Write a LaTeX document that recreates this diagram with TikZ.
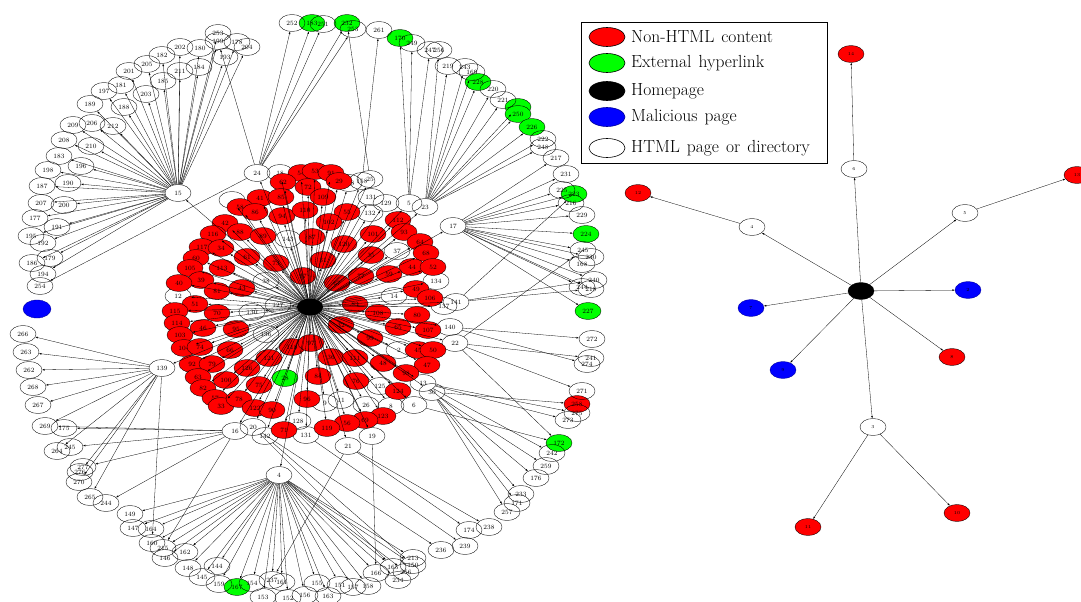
\documentclass[tikz,border=0pt]{standalone}
\usepackage{tikz}
\usetikzlibrary{arrows.meta,shapes.geometric}

% first level pages of site one: name/x/y
\newcommand\firstwhite{12/178/296, 127/278/305, 130/252/312, 136/266/334, 143/288/239, 38/266/281,
  25/370/179, 138/349/183, 131/371/197, 129/386/203, 5/409/203, 23/425/207, 132/370/213, 17/453/226,
  37/397/251, 134/436/281, 14/394/296, 137/444/306, 141/456/302, 140/450/327, 22/455/343, 2/399/350,
  125/380/386, 13/423/383, 30/432/392, 9/325/403, 11/341/400, 26/366/405, 8/391/406, 6/414/405,
  128/298/421, 19/372/436, 21/348/446, 16/235/431, 20/253/427, 142/265/436, 4/279/475, 139/162/368,
  15/178/193, 24/257/173, 18/280/173}
\newcommand\firstred{54/301/173, 53/315/171, 91/331/173, 62/283/182, 72/308/187, 29/339/181, 109/323/197,
  41/260/198, 85/281/197, 58/240/207, 86/255/212, 94/282/216, 110/305/210, 55/347/212, 102/329/222,
  112/398/220, 101/373/234, 93/404/232, 42/225/223, 116/213/234, 88/240/232, 89/263/236, 87/312/237,
  120/344/244, 64/420/242, 117/202/247, 34/221/248, 61/247/257, 68/426/253, 35/371/255, 73/276/263,
  31/323/260, 60/196/258, 105/190/268, 113/222/268, 44/412/267, 52/433/267, 59/389/274, 77/361/276,
  67/337/283, 39/201/280, 40/179/283, 81/217/291, 43/242/288, 49/416/289, 106/430/298, 51/195/304,
  70/217/313, 83/355/304, 108/378/313, 80/417/315, 115/175/311, 114/177/323, 32/341/325, 65/398/327,
  107/428/330, 46/203/328, 95/236/329, 103/180/335, 104/184/348, 74/200/347, 66/230/350, 118/292/347,
  97/311/343, 99/370/338, 45/418/350, 50/433/350, 36/331/357, 111/355/358, 48/383/363, 47/427/365,
  121/269/358, 92/192/364, 79/212/364, 126/247/368, 84/318/376, 76/356/381, 98/406/373, 124/398/391,
  63/198/377, 100/226/380, 75/259/385, 82/203/388, 57/215/398, 33/221/406, 78/239/399, 96/307/399,
  122/255/408, 90/272/410, 123/383/416, 69/365/420, 56/347/423, 119/327/428, 71/284/430}
% outer pages of site one: hub/name/x/y
\newcommand\outerwhite{15/253/218/33, 15/199/218/41, 15/178/237/42, 15/204/247/47, 15/202/180/47,
  15/180/200/48, 15/193/225/57, 15/182/162/55, 15/184/199/67, 15/211/180/71, 15/205/147/64,
  15/201/129/71, 15/185/163/81, 15/181/121/85, 15/197/104/91, 15/203/146/94, 15/189/90/104,
  15/188/124/107, 15/209/73/125, 15/206/92/123, 15/212/113/126, 15/208/64/140, 15/210/91/146,
  15/183/59/156, 15/196/81/166, 15/198/48/170, 15/190/68/183, 15/187/42/186, 15/207/41/203,
  15/200/64/205, 15/177/35/218, 15/191/57/227, 15/195/31/236, 15/192/43/243, 15/179/50/258,
  15/186/32/263, 15/194/43/274, 24/254/40/286, 24/252/292/23, 24/251/323/24, 158b/261/379/30,
  5/249/412/43, 5/247/430/50, 23/256/439/50, 23/219/448/66, 23/243/465/67, 23/169/472/72,
  23/220/493/89, 23/221/503/100, 23/222/543/139, 23/248/543/147, 17/217/556/158, 17/231/566/174,
  17/225/562/190, 17/216/571/203, 17/229/582/215, 17/245/583/250, 17/230/591/257, 17/168/582/264,
  17/240/594/280, 17/244/582/287, 17/218/591/289, 140/272/592/339, 22/241/591/358, 140/274/587/364,
  22/271/582/391, 13/275/577/413, 13/273/568/420, 13/242/552/453, 30/259/546/466, 13/176/536/478,
  30/233/521/494, 30/171/517/503, 30/257/507/512, 21/238/489/527, 21/174/469/530, 131b/239/465/546,
  20/236/441/550, 4/149/130/514, 4/147/133/528, 4/164/151/529, 4/160/152/543, 4/215/163/548,
  4/146/165/558, 4/162/185/552, 4/148/188/568, 4/144/217/566, 4/145/202/577, 4/159/219/584,
  4/154/252/583, 4/153/263/597, 4/237/272/580, 4/161/282/582, 4/152/288/598, 4/156/305/595,
  4/155/317/583, 4/163/328/596, 4/151/340/585, 4/157/353/587, 4/158/368/586, 4/166/376/573,
  4/165/393/567, 4/234/398/580, 4/213/413/558, 4/150/413/565, 139/266/23/334, 139/263/26/352,
  139/262/29/370, 139/268/33/387, 139/267/38/405, 139/269/45/426, 16/175/64/428, 139/264/57/451,
  16/277/83/467, 139/276/80/472, 139/270/79/482, 139/265/90/497}

\begin{document}
\begin{tikzpicture}[x=1pt, y=-1pt,
    nd/.style={ellipse, draw, line width=0.35pt, minimum width=26pt, minimum height=17pt, inner sep=0pt, font=\fontsize{6.5}{7}\selectfont},
    pg/.style={nd},
    nh/.style={nd, fill=red},
    ex/.style={nd, fill=green},
    hm/.style={nd, fill=black},
    ml/.style={nd, fill=blue, draw=blue!60!black},
    sm/.style={font=\fontsize{4.5}{5}\selectfont},
    ln/.style={-{Latex[length=2.4pt,width=1.8pt]}, line width=0.3pt},
    lgk/.style={ellipse, draw, line width=0.6pt, minimum width=36pt, minimum height=19pt, inner sep=0pt},
    lgt/.style={anchor=west, inner sep=0pt, font=\fontsize{17.5}{19}\selectfont}]
  \useasboundingbox (0,0) rectangle (1081,602);

  % site one: nodes
  \node[hm] (hp) at (310,307) {};
  \foreach \n/\x/\y in \firstwhite {\node[pg] (n\n) at (\x,\y) {\n};}
  \node[pg] (n158b) at (362,181) {158};
  \node[pg] (n131b) at (306,435) {131};
  \node[pg] (nw) at (232,200) {};
  \foreach \n/\x/\y in \firstred {\node[nh] (n\n) at (\x,\y) {\n};}
  \node[nh] (n97b) at (303,276) {97};
  \node[ex] (n28) at (285,378) {28};
  \node[ex] (n183g) at (312,23) {183};
  \node[ex] (n232) at (347,23) {232};
  \node[ex] (n170) at (400,38) {170};
  \node[ex] (n228) at (478,82) {228};
  \node[ex] (n250g) at (518,107) {};
  \node[ex] (n250) at (518,114) {250};
  \node[ex] (n226) at (532,127) {226};
  \node[ex] (n223) at (574,194) {223};
  \node[ex] (n224) at (586,234) {224};
  \node[ex] (n227) at (588,311) {227};
  \node[ex] (n172) at (559,443) {172};
  \node[ex] (n167) at (237,587) {167};
  \node[nh] (n258) at (577,404) {258};
  \foreach \h/\n/\x/\y in \outerwhite {\node[pg] (n\n) at (\x,\y) {\n};}
  \node[pg] (n235) at (353,29) {253};
  \node[pg] (n256b) at (406,572) {256};
  \node[pg] (n245b) at (70,447) {245};
  \node[pg] (n244b) at (106,503) {244};
  \node[ml, minimum width=28pt, minimum height=18pt] (lone) at (37,309) {};

  % site one: links
  \foreach \n/\x/\y in \firstwhite {\draw[ln] (hp) -- (n\n);}
  \foreach \n/\x/\y in \firstred {\draw[ln] (hp) -- (n\n);}
  \foreach \t in {158b,131b,w,97b,28} \draw[ln] (hp) -- (n\t);
  \foreach \h/\n/\x/\y in \outerwhite {\draw[ln] (n\h) -- (n\n);}
  \foreach \h/\t in {24/235, 4/256b, 16/245b, 16/244b, 24/183g, 24/232, 25/232, 5/170, 23/228, 23/250g,
      23/250, 23/226, 17/223, 17/224, 17/227, 6/172, 4/167, 30/258, 24/199, 141/223, 141/240,
      141/218, 22/245, 22/172, 21/237, 19/166, 16/215, 139/160, 142/150, 20/165, 16/269}
    \draw[ln] (n\h) -- (n\t);

  % site two
  \node[hm] (r0) at (861,291) {};
  \foreach \n/\s/\x/\y in {6/pg/854/169, 4/pg/752/227, 5/pg/965/213, 3/pg/873/427, 2/ml/968/290,
      7/ml/751/308, 9/ml/783/370, 8/nh/952/357} {
    \node[\s, sm] (r\n) at (\x,\y) {\n};
    \draw[ln] (r0) -- (r\n);
  }
  \foreach \h/\n/\x/\y in {6/14/851/54, 5/13/1077/175, 4/12/638/193, 3/10/957/513, 3/11/808/527} {
    \node[nh, sm] (r\n) at (\x,\y) {\n};
    \draw[ln] (r\h) -- (r\n);
  }

  % legend
  \node[draw, line width=0.8pt, minimum width=246pt, minimum height=141pt, anchor=north west, inner sep=0pt, fill=white] (lgbox) at (581,22) {};
  \foreach \i/\s/\y/\t in {1/nh/37/Non-HTML content, 2/ex/63/External hyperlink, 3/hm/91/Homepage,
      4/ml/117/Malicious page, 5/pg/148/HTML page or directory} {
    \node[\s, lgk] (lk\i) at (607,\y) {};
    \node[lgt] (lt\i) at (631,\y) {\spaceskip=7pt\relax\t};
  }
\end{tikzpicture}
\end{document}
